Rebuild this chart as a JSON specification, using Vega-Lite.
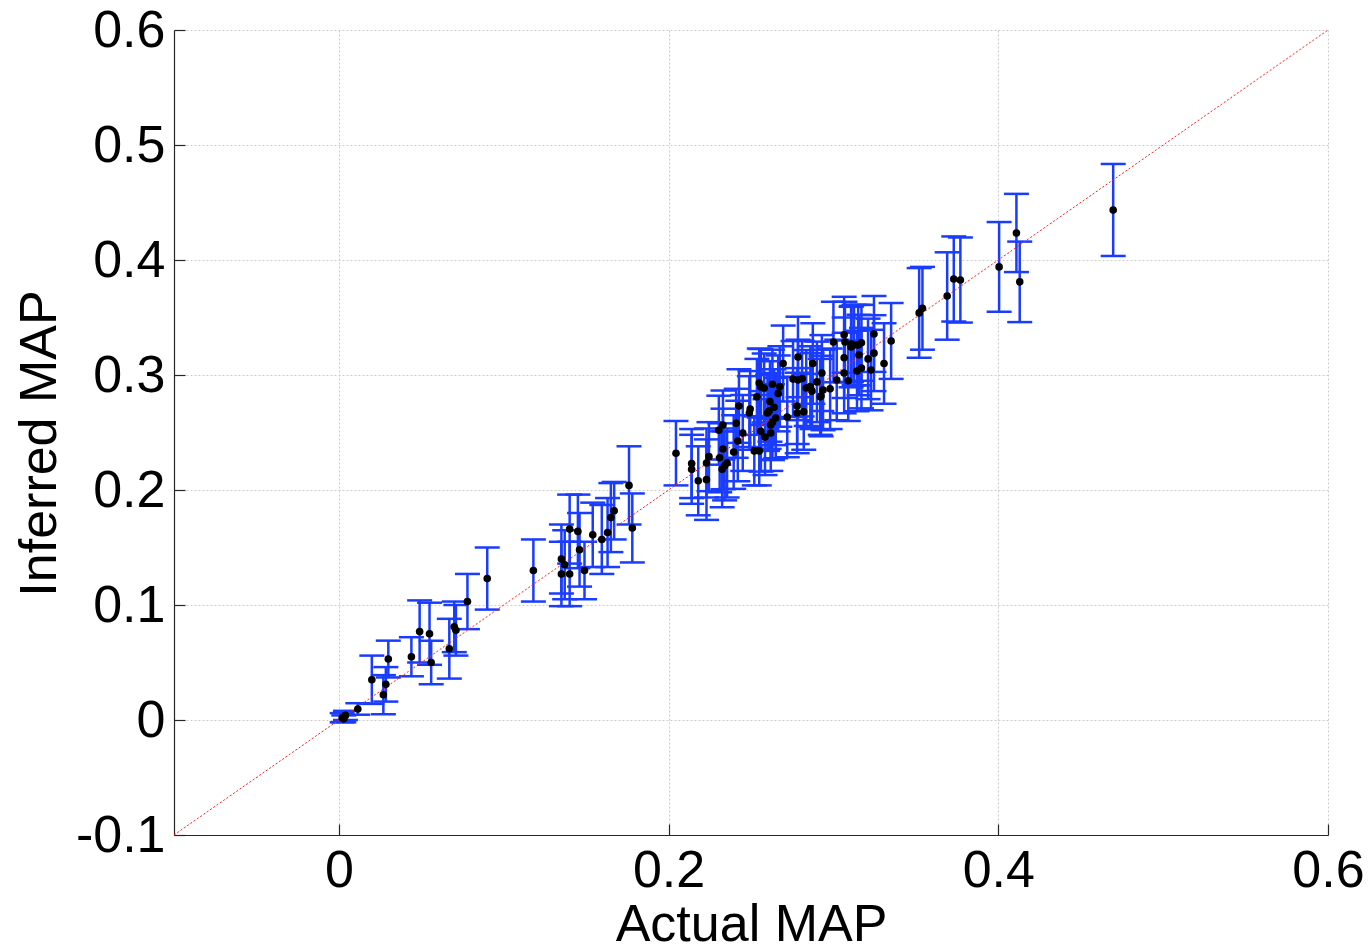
{
  "$schema": "https://vega.github.io/schema/vega-lite/v6.json",
  "width": 1154,
  "height": 805,
  "autosize": "none",
  "padding": {"left": 174, "top": 30, "right": 44, "bottom": 112},
  "background": "white",
  "config": {
    "view": {"stroke": null},
    "font": "Liberation Sans",
    "axis": {
      "labelFont": "Liberation Sans",
      "titleFont": "Liberation Sans",
      "labelFontSize": 52,
      "titleFontSize": 52,
      "labelColor": "black",
      "titleColor": "black",
      "titleFontWeight": "normal",
      "domainColor": "#262626",
      "domainWidth": 1.2,
      "tickColor": "#262626",
      "tickSize": -11,
      "tickWidth": 1.2,
      "grid": true,
      "gridColor": "#cccccc",
      "gridDash": [2, 2],
      "gridWidth": 1,
      "labelFlush": false,
      "labelOverlap": false,
      "labelBound": false,
      "labelExpr": "datum.value == 0 ? '0' : (datum.value < 0 ? '-' + format(-datum.value, '.1f') : format(datum.value, '.1f'))"
    }
  },
  "datasets": {
    "pts": [
      {"x": 0.002, "y": 0.002, "e": 0.004},
      {"x": 0.004, "y": 0.004, "e": 0.004},
      {"x": 0.003, "y": 0.001, "e": 0.003},
      {"x": 0.0115, "y": 0.0096, "e": 0.005},
      {"x": 0.020, "y": 0.035, "e": 0.021},
      {"x": 0.027, "y": 0.022, "e": 0.017},
      {"x": 0.0285, "y": 0.031, "e": 0.015},
      {"x": 0.030, "y": 0.053, "e": 0.016},
      {"x": 0.044, "y": 0.055, "e": 0.017},
      {"x": 0.049, "y": 0.077, "e": 0.027},
      {"x": 0.055, "y": 0.075, "e": 0.027},
      {"x": 0.056, "y": 0.050, "e": 0.019},
      {"x": 0.067, "y": 0.062, "e": 0.026},
      {"x": 0.070, "y": 0.081, "e": 0.022},
      {"x": 0.071, "y": 0.078, "e": 0.022},
      {"x": 0.078, "y": 0.103, "e": 0.024},
      {"x": 0.090, "y": 0.123, "e": 0.027},
      {"x": 0.118, "y": 0.130, "e": 0.027},
      {"x": 0.135, "y": 0.140, "e": 0.030},
      {"x": 0.137, "y": 0.135, "e": 0.030},
      {"x": 0.135, "y": 0.127, "e": 0.028},
      {"x": 0.140, "y": 0.127, "e": 0.028},
      {"x": 0.140, "y": 0.166, "e": 0.030},
      {"x": 0.145, "y": 0.164, "e": 0.032},
      {"x": 0.146, "y": 0.148, "e": 0.032},
      {"x": 0.149, "y": 0.130, "e": 0.025},
      {"x": 0.154, "y": 0.161, "e": 0.028},
      {"x": 0.1595, "y": 0.157, "e": 0.030},
      {"x": 0.163, "y": 0.163, "e": 0.030},
      {"x": 0.165, "y": 0.176, "e": 0.030},
      {"x": 0.167, "y": 0.182, "e": 0.025},
      {"x": 0.176, "y": 0.204, "e": 0.034},
      {"x": 0.178, "y": 0.167, "e": 0.030},
      {"x": 0.2045, "y": 0.232, "e": 0.028},
      {"x": 0.214, "y": 0.223, "e": 0.030},
      {"x": 0.214, "y": 0.218, "e": 0.030},
      {"x": 0.218, "y": 0.208, "e": 0.030},
      {"x": 0.223, "y": 0.209, "e": 0.035},
      {"x": 0.223, "y": 0.2235, "e": 0.030},
      {"x": 0.2245, "y": 0.229, "e": 0.030},
      {"x": 0.2305, "y": 0.252, "e": 0.030},
      {"x": 0.233, "y": 0.2565, "e": 0.030},
      {"x": 0.233, "y": 0.2357, "e": 0.035},
      {"x": 0.231, "y": 0.228, "e": 0.030},
      {"x": 0.2325, "y": 0.218, "e": 0.033},
      {"x": 0.234, "y": 0.221, "e": 0.030},
      {"x": 0.2355, "y": 0.2235, "e": 0.030},
      {"x": 0.2395, "y": 0.233, "e": 0.032},
      {"x": 0.241, "y": 0.258, "e": 0.030},
      {"x": 0.2427, "y": 0.273, "e": 0.032},
      {"x": 0.242, "y": 0.2426, "e": 0.035},
      {"x": 0.245, "y": 0.2496, "e": 0.033},
      {"x": 0.249, "y": 0.267, "e": 0.032},
      {"x": 0.2495, "y": 0.2704, "e": 0.033},
      {"x": 0.252, "y": 0.234, "e": 0.030},
      {"x": 0.255, "y": 0.234, "e": 0.030},
      {"x": 0.2536, "y": 0.281, "e": 0.033},
      {"x": 0.255, "y": 0.293, "e": 0.030},
      {"x": 0.256, "y": 0.2896, "e": 0.033},
      {"x": 0.258, "y": 0.2887, "e": 0.030},
      {"x": 0.256, "y": 0.251, "e": 0.035},
      {"x": 0.2585, "y": 0.246, "e": 0.033},
      {"x": 0.260, "y": 0.267, "e": 0.033},
      {"x": 0.261, "y": 0.2687, "e": 0.033},
      {"x": 0.2615, "y": 0.277, "e": 0.035},
      {"x": 0.262, "y": 0.2496, "e": 0.033},
      {"x": 0.262, "y": 0.2565, "e": 0.030},
      {"x": 0.263, "y": 0.259, "e": 0.033},
      {"x": 0.264, "y": 0.272, "e": 0.033},
      {"x": 0.265, "y": 0.2626, "e": 0.035},
      {"x": 0.263, "y": 0.292, "e": 0.030},
      {"x": 0.2665, "y": 0.284, "e": 0.033},
      {"x": 0.2675, "y": 0.290, "e": 0.035},
      {"x": 0.272, "y": 0.2635, "e": 0.035},
      {"x": 0.278, "y": 0.267, "e": 0.035},
      {"x": 0.2695, "y": 0.310, "e": 0.033},
      {"x": 0.2785, "y": 0.3157, "e": 0.035},
      {"x": 0.2755, "y": 0.2965, "e": 0.033},
      {"x": 0.2785, "y": 0.2957, "e": 0.035},
      {"x": 0.281, "y": 0.297, "e": 0.033},
      {"x": 0.2875, "y": 0.310, "e": 0.035},
      {"x": 0.2835, "y": 0.2887, "e": 0.033},
      {"x": 0.286, "y": 0.290, "e": 0.035},
      {"x": 0.287, "y": 0.286, "e": 0.033},
      {"x": 0.290, "y": 0.294, "e": 0.035},
      {"x": 0.293, "y": 0.3017, "e": 0.033},
      {"x": 0.2937, "y": 0.287, "e": 0.035},
      {"x": 0.2925, "y": 0.2817, "e": 0.035},
      {"x": 0.292, "y": 0.281, "e": 0.033},
      {"x": 0.298, "y": 0.288, "e": 0.035},
      {"x": 0.278, "y": 0.273, "e": 0.033},
      {"x": 0.282, "y": 0.268, "e": 0.033},
      {"x": 0.300, "y": 0.3287, "e": 0.035},
      {"x": 0.302, "y": 0.2957, "e": 0.035},
      {"x": 0.3065, "y": 0.335, "e": 0.033},
      {"x": 0.307, "y": 0.3287, "e": 0.035},
      {"x": 0.3065, "y": 0.315, "e": 0.035},
      {"x": 0.3065, "y": 0.3017, "e": 0.035},
      {"x": 0.309, "y": 0.295, "e": 0.035},
      {"x": 0.3107, "y": 0.3243, "e": 0.035},
      {"x": 0.311, "y": 0.327, "e": 0.033},
      {"x": 0.3125, "y": 0.326, "e": 0.035},
      {"x": 0.315, "y": 0.326, "e": 0.035},
      {"x": 0.317, "y": 0.328, "e": 0.033},
      {"x": 0.3155, "y": 0.3174, "e": 0.035},
      {"x": 0.317, "y": 0.306, "e": 0.035},
      {"x": 0.3143, "y": 0.3035, "e": 0.035},
      {"x": 0.321, "y": 0.314, "e": 0.035},
      {"x": 0.3228, "y": 0.3043, "e": 0.035},
      {"x": 0.3246, "y": 0.319, "e": 0.033},
      {"x": 0.3246, "y": 0.3357, "e": 0.033},
      {"x": 0.3307, "y": 0.310, "e": 0.035},
      {"x": 0.335, "y": 0.3296, "e": 0.033},
      {"x": 0.352, "y": 0.354, "e": 0.039},
      {"x": 0.354, "y": 0.358, "e": 0.036},
      {"x": 0.369, "y": 0.3687, "e": 0.038},
      {"x": 0.373, "y": 0.3835, "e": 0.037},
      {"x": 0.377, "y": 0.3826, "e": 0.037},
      {"x": 0.4005, "y": 0.394, "e": 0.039},
      {"x": 0.411, "y": 0.4235, "e": 0.034},
      {"x": 0.413, "y": 0.381, "e": 0.035},
      {"x": 0.4697, "y": 0.4435, "e": 0.040}
    ],
    "diag": [
      {"x": -0.1, "y": -0.1},
      {"x": 0.6, "y": 0.6}
    ]
  },
  "layer": [
    {
      "data": {"name": "pts"},
      "mark": {
        "type": "errorbar",
        "ticks": {"size": 25, "thickness": 2.5, "color": "#1a3cff", "opacity": 1},
        "rule": {"strokeWidth": 2.5, "color": "#1a3cff", "opacity": 1}
      },
      "encoding": {
        "x": {
          "field": "x", "type": "quantitative",
          "scale": {"domain": [-0.1, 0.6], "nice": false, "zero": false},
          "axis": {"values": [0, 0.2, 0.4, 0.6], "title": "Actual MAP", "labelPadding": 21, "titleY": 105, "titleBaseline": "alphabetic"}
        },
        "y": {
          "field": "y", "type": "quantitative",
          "scale": {"domain": [-0.1, 0.6], "nice": false, "zero": false},
          "axis": {"values": [-0.1, 0, 0.1, 0.2, 0.3, 0.4, 0.5, 0.6], "title": "Inferred MAP", "labelPadding": 20, "titleX": -119, "titleY": 413, "titleBaseline": "alphabetic", "titleAlign": "center", "titleAngle": -90}
        },
        "yError": {"field": "e"}
      }
    },
    {
      "data": {"name": "diag"},
      "mark": {"type": "line", "color": "#ff2020", "strokeWidth": 1, "strokeDash": [2, 2], "clip": true},
      "encoding": {
        "x": {"field": "x", "type": "quantitative"},
        "y": {"field": "y", "type": "quantitative"}
      }
    },
    {
      "data": {"name": "pts"},
      "mark": {"type": "point", "filled": true, "color": "black", "size": 58, "opacity": 1},
      "encoding": {
        "x": {"field": "x", "type": "quantitative"},
        "y": {"field": "y", "type": "quantitative"}
      }
    }
  ]
}
